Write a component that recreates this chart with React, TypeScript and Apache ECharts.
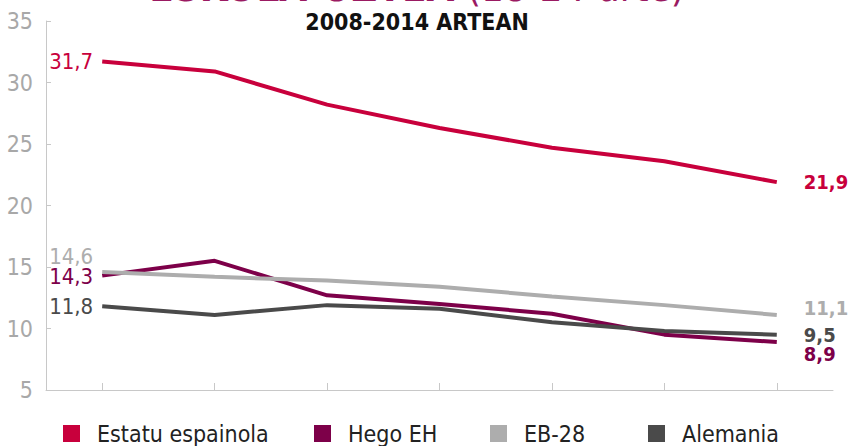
import React, { useEffect, useRef } from "react";
import * as echarts from "echarts";

const years = [2008, 2009, 2010, 2011, 2012, 2013, 2014];
const estatuEspainola = [31.7, 30.9, 28.2, 26.3, 24.7, 23.6, 21.9];
const hegoEH = [14.3, 15.5, 12.7, 12.0, 11.2, 9.5, 8.9];
const eb28 = [14.6, 14.2, 13.9, 13.4, 12.6, 11.9, 11.1];
const alemania = [11.8, 11.1, 11.9, 11.6, 10.5, 9.8, 9.5];
const yTicks = [5, 10, 15, 20, 25, 30, 35];

const FONT = '"Liberation Sans Narrow", "DejaVu Sans Condensed", "Roboto", sans-serif';

const fmt = (v: number) => v.toFixed(1).replace(".", ",");

function buildData(values: number[], color: string) {
  return values.map((v, i) => {
    const item: any = { value: [years[i], v] };
    if (i === 0) {
      item.label = {
        show: true,
        position: "left",
        distance: 9,
        color,
        fontSize: 22,
        lineHeight: 18,
        fontFamily: FONT,
        fontWeight: 400,
        formatter: (p: any) => fmt(p.value[1]),
      };
    } else if (i === values.length - 1) {
      item.label = {
        show: true,
        position: "right",
        distance: 27,
        color,
        fontSize: 20,
        lineHeight: 17,
        fontFamily: FONT,
        fontWeight: "bold",
        formatter: (p: any) => fmt(p.value[1]),
      };
    }
    return item;
  });
}

export default function App() {
  const ref = useRef<HTMLDivElement>(null);
  useEffect(() => {
    if (!ref.current) return;
    const chart = echarts.init(ref.current, null, { renderer: "svg" });
    const series = [
      { name: "Estatu espainola", color: "#c8003c", values: estatuEspainola, lo: 0, ro: 0 },
      { name: "Hego EH", color: "#7d0049", values: hegoEH, lo: 1, ro: 12 },
      { name: "EB-28", color: "#adadad", values: eb28, lo: -15, ro: -7 },
      { name: "Alemania", color: "#4a4a4a", values: alemania, lo: 0, ro: 0 },
    ];
    const legendLefts = [63, 314, 490, 648];
    chart.setOption({
      animation: false,
      backgroundColor: "#ffffff",
      grid: { left: 46, right: 17, top: 21, bottom: 56 },
      xAxis: {
        type: "value",
        min: 2007.5,
        max: 2014.5,
        axisLine: { show: true, lineStyle: { color: "#c8c8c8", width: 1 } },
        axisTick: {
          show: true,
          inside: true,
          length: 7,
          customValues: years,
          lineStyle: { color: "#c8c8c8" },
        },
        axisLabel: { show: false },
        splitLine: { show: false },
      },
      yAxis: {
        type: "value",
        min: 5,
        max: 35,
        interval: 5,
        axisLine: { show: true, lineStyle: { color: "#c8c8c8", width: 1 } },
        axisTick: { show: true, inside: true, length: 5, lineStyle: { color: "#c8c8c8" } },
        axisLabel: {
          color: "#a8a8a8",
          fontSize: 23,
          fontFamily: FONT,
          margin: 13,
          formatter: (v: number) => (yTicks.includes(v) ? String(v) : ""),
        },
        splitLine: { show: false },
      },
      legend: series.map((s, i) => ({
        data: [s.name],
        left: legendLefts[i],
        top: 422,
        icon: "rect",
        itemWidth: 17,
        itemHeight: 17,
        padding: 0,
        textStyle: {
          color: "#222222",
          fontSize: 23,
          fontFamily: FONT,
          fontWeight: 400,
          padding: [0, 0, 0, 12],
        },
      })),
      series: series.map((s) => ({
        name: s.name,
        type: "line",
        color: s.color,
        showSymbol: true,
        symbol: "circle",
        symbolSize: 0.01,
        lineStyle: { color: s.color, width: 4 },
        itemStyle: { color: s.color },
        labelLayout: (p: any) => ({
          hideOverlap: false,
          dy: p.dataIndex === 0 ? s.lo : s.ro,
        }),
        data: buildData(s.values, s.color),
      })),
      graphic: [
        {
          type: "text",
          x: 417,
          y: 7,
          style: {
            text: "{b|ESKOLA-UZTEA }{l|(18-24 urte)}",
            align: "center",
            verticalAlign: "bottom",
            fill: "#9a1a62",
            rich: {
              b: { fontSize: 40, fontWeight: "bold", fontFamily: FONT, fill: "#9a1a62" },
              l: { fontSize: 40, fontWeight: 300, fontFamily: FONT, fill: "#9a1a62" },
            },
          },
        },
        {
          type: "text",
          x: 417,
          y: 22,
          style: {
            text: "2008-2014 ARTEAN",
            align: "center",
            verticalAlign: "middle",
            fill: "#111111",
            fontSize: 23,
            fontWeight: "bold",
            fontFamily: FONT,
          },
        },
      ],
    });
    return () => chart.dispose();
  }, []);
  return <div ref={ref} style={{ width: 850, height: 446, position: "absolute", left: 0, top: 0 }} />;
}
